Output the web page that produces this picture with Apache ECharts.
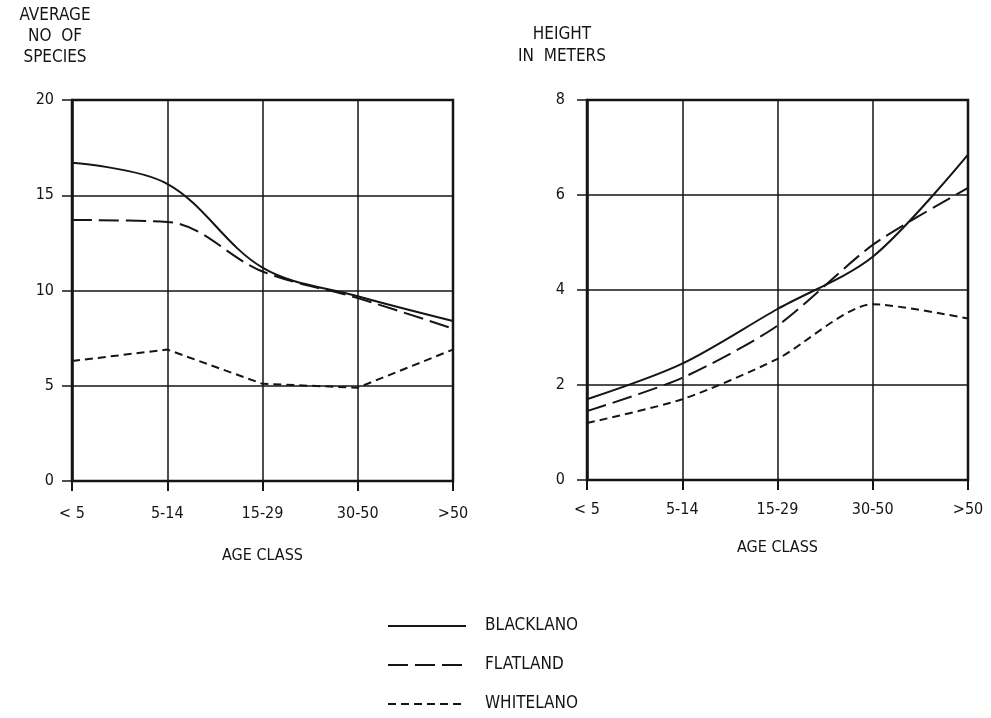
<!DOCTYPE html>
<html>
<head>
<meta charset="utf-8">
<script src="https://cdn.jsdelivr.net/npm/echarts@6/dist/echarts.min.js"></script>
<style>
html,body{margin:0;padding:0;background:#fff;}
#chart{width:991px;height:718px;}
</style>
</head>
<body>
<div id="chart"></div>
<script>
var ageClasses = ['< 5', '5-14', '15-29', '30-50', '>50'];
var seriesNames = ['BLACKLANO', 'FLATLAND', 'WHITELANO'];
var speciesBlackland = [16.7, 15.6, 11.2, 9.7, 8.4];
var speciesFlatland = [13.7, 13.6, 11.0, 9.6, 8.0];
var speciesWhiteland = [6.3, 6.9, 5.1, 4.9, 6.9];
var heightBlackland = [1.7, 2.45, 3.6, 4.7, 6.85];
var heightFlatland = [1.45, 2.15, 3.25, 4.95, 6.15];
var heightWhiteland = [1.2, 1.7, 2.55, 3.7, 3.4];
var speciesTicks = [0, 5, 10, 15, 20];
var heightTicks = [0, 2, 4, 6, 8];

var FONT = '"DejaVu Sans Condensed", "DejaVu Sans", sans-serif';
var INK = '#151515';
var styles = [
  {width: 2, type: 'solid'},
  {width: 2, type: [20, 7]},
  {width: 2, type: [8, 5]}
];

function xAxisFor(gridIndex, labelMargin, nameGap) {
  return {
    type: 'category', gridIndex: gridIndex, data: ageClasses, boundaryGap: false,
    name: 'AGE CLASS', nameLocation: 'middle', nameGap: nameGap,
    nameTextStyle: {fontFamily: FONT, fontSize: 16, color: INK},
    axisLine: {show: true, lineStyle: {color: INK, width: 2}},
    axisTick: {show: true, length: 10, lineStyle: {color: INK, width: 2}},
    axisLabel: {fontFamily: FONT, fontSize: 16, color: INK, margin: labelMargin},
    splitLine: {show: true, lineStyle: {color: INK, width: 1.5}}
  };
}
function yAxisFor(gridIndex, ticks, labelMargin) {
  return {
    type: 'value', gridIndex: gridIndex,
    min: ticks[0], max: ticks[ticks.length - 1], interval: ticks[1] - ticks[0],
    axisLine: {show: true, lineStyle: {color: INK, width: 2.5}},
    axisTick: {show: true, length: 10, lineStyle: {color: INK, width: 1.5}},
    axisLabel: {fontFamily: FONT, fontSize: 16, color: INK, margin: labelMargin},
    splitLine: {show: true, lineStyle: {color: INK, width: 1.5}}
  };
}
function lineSeries(name, data, idx, axisIndex, smooth) {
  return {
    name: name, type: 'line', data: data,
    xAxisIndex: axisIndex, yAxisIndex: axisIndex,
    symbol: 'none', smooth: smooth,
    lineStyle: {color: INK, width: styles[idx].width, type: styles[idx].type},
    itemStyle: {color: INK},
    z: 5
  };
}

var chart = echarts.init(document.getElementById('chart'), null, {renderer: 'canvas'});
chart.setOption({
  backgroundColor: '#ffffff',
  animation: false,
  title: [
    {text: 'AVERAGE\nNO  OF\nSPECIES', left: 55, top: 5, textAlign: 'center', padding: 0,
     textStyle: {fontFamily: FONT, fontSize: 17, fontWeight: 'normal', color: INK, lineHeight: 21}},
    {text: 'HEIGHT\nIN  METERS', left: 562, top: 24, textAlign: 'center', padding: 0,
     textStyle: {fontFamily: FONT, fontSize: 17, fontWeight: 'normal', color: INK, lineHeight: 22}}
  ],
  legend: {
    orient: 'vertical', left: 387, top: 616, padding: 0,
    width: 300, height: 130,
    itemWidth: 78, itemHeight: 14, itemGap: 19,
    data: seriesNames,
    itemStyle: {opacity: 0},
    textStyle: {fontFamily: FONT, fontSize: 17, lineHeight: 20, color: INK, padding: [0, 0, 0, 14]}
  },
  grid: [
    {left: 72, top: 100, width: 381, height: 381, show: true, borderColor: INK, borderWidth: 2.5, containLabel: false},
    {left: 587, top: 100, width: 381, height: 380, show: true, borderColor: INK, borderWidth: 2.5, containLabel: false}
  ],
  xAxis: [xAxisFor(0, 25, 67), xAxisFor(1, 22, 60)],
  yAxis: [yAxisFor(0, speciesTicks, 18), yAxisFor(1, heightTicks, 22)],
  series: [
    lineSeries(seriesNames[0], speciesBlackland, 0, 0, 0.35),
    lineSeries(seriesNames[1], speciesFlatland, 1, 0, 0.35),
    lineSeries(seriesNames[2], speciesWhiteland, 2, 0, false),
    lineSeries(seriesNames[0], heightBlackland, 0, 1, 0.3),
    lineSeries(seriesNames[1], heightFlatland, 1, 1, 0.25),
    lineSeries(seriesNames[2], heightWhiteland, 2, 1, 0.25)
  ]
});
</script>
</body>
</html>
